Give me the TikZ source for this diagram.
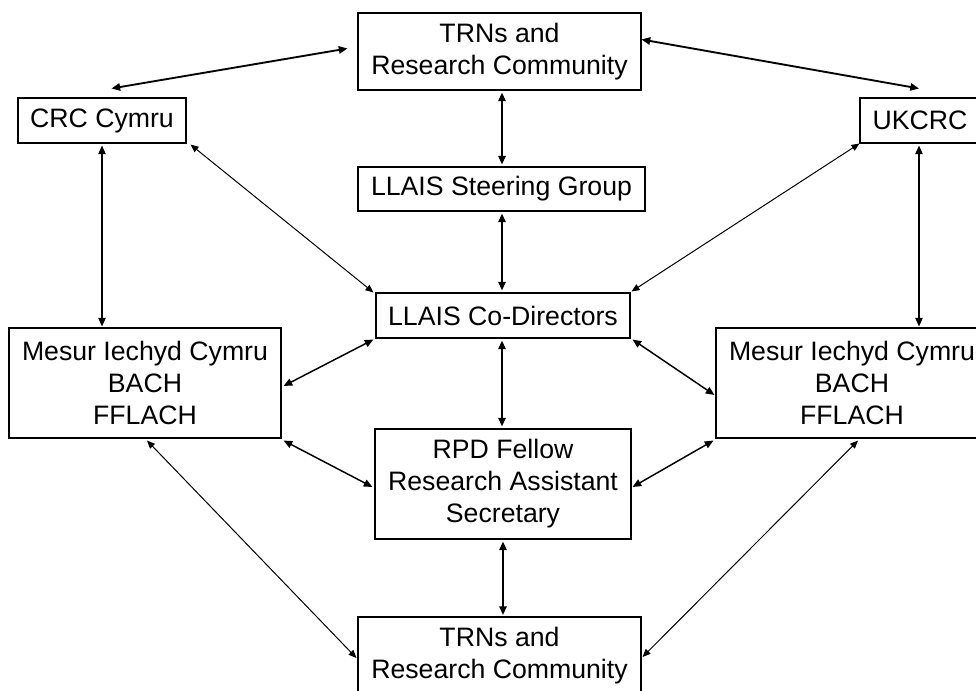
\documentclass[tikz,border=0pt]{standalone}
\usepackage{fontspec}
\setmainfont{Liberation Sans}
\usetikzlibrary{arrows.meta,calc}
\begin{document}
\begin{tikzpicture}[x=0.75pt,y=-0.75pt,
  box/.style={draw=black,line width=0.8pt,inner sep=0pt,align=center,
    font=\fontsize{20pt}{24pt}\selectfont},
  link/.style={{Triangle[length=6.5pt,width=5.5pt]}-{Triangle[length=6.5pt,width=5.5pt]},line width=1.4pt},
  thinlink/.style={{Triangle[length=6pt,width=5pt]}-{Triangle[length=6pt,width=5pt]},line width=0.75pt}]
\useasboundingbox (0,0) rectangle (976,690);
\node[box,minimum width=212.25pt,minimum height=57.75pt] (topT) at (499.5,51.5) {TRNs and\\Research Community};
\node[box,minimum width=126pt,minimum height=33.75pt] (crc) at (102,120.5) {CRC Cymru};
\node[box,minimum width=90pt,minimum height=33.75pt] (uk) at (920,120.5) {UKCRC};
\node[box,minimum width=215.25pt,minimum height=33pt] (steer) at (501.5,189) {LLAIS Steering Group};
\node[box,minimum width=190.5pt,minimum height=33.75pt] (codir) at (503,315.5) {LLAIS Co-Directors};
\node[box,minimum width=204pt,minimum height=82.5pt] (lmes) at (145,383) {Mesur Iechyd Cymru\\BACH\\FFLACH};
\node[box,minimum width=204pt,minimum height=82.5pt] (rmes) at (852,383) {Mesur Iechyd Cymru\\BACH\\FFLACH};
\node[box,minimum width=192pt,minimum height=82.5pt] (rpd) at (503,484) {RPD Fellow\\Research Assistant\\Secretary};
\node[box,minimum width=212.25pt,minimum height=57.75pt] (botT) at (499.5,655.5) {TRNs and\\Research Community};

\draw[link] ($(topT.north west)+(-10,36)$) -- ($(crc.north west)+(94,-9)$);
\draw[link] ($(topT.north east)+(0,27)$) -- ($(uk.north)+(-1,-9)$);
\draw[link] ($(topT.south)+(2.5,2)$) -- ($(steer.north)+(0.5,-2)$);
\draw[link] ($(steer.south)+(0.5,2)$) -- ($(codir.north)+(-1,-2)$);
\draw[link,line width=1.1pt] ($(crc.south)+(0,2)$) -- ($(lmes.north)+(-43,-1)$);
\draw[thinlink] ($(crc.south east)+(4,1)$) -- ($(codir.north west)+(-2,0)$);
\draw[thinlink] ($(uk.south west)+(0,0)$) -- ($(codir.north east)+(1,-1)$);
\draw[link,line width=1.1pt] ($(uk.south)+(-1,2)$) -- ($(rmes.north)+(67,-1)$);
\draw[link,line width=1.1pt] ($(codir.south west)+(-2,1)$) -- ($(lmes.east)+(2,3)$);
\draw[link,line width=1.1pt] ($(codir.south east)+(2,1)$) -- ($(rmes.west)+(-1,12)$);
\draw[link] ($(codir.south)+(-1,2)$) -- ($(rpd.north)+(-1,-2)$);
\draw[link,line width=1.1pt] ($(lmes.south east)+(2,2)$) -- ($(rpd.west)+(-2,3)$);
\draw[link,line width=1.1pt] ($(rmes.south west)+(-2,2)$) -- ($(rpd.east)+(1,3)$);
\draw[link] ($(rpd.south)+(0,2)$) -- ($(botT.north)+(3.5,-1.5)$);
\draw[thinlink] ($(lmes.south)+(2,2)$) -- ($(botT.west)+(-1,2.5)$);
\draw[thinlink] ($(rmes.south)+(6,2)$) -- ($(botT.east)+(1,1.5)$);
\end{tikzpicture}
\end{document}
